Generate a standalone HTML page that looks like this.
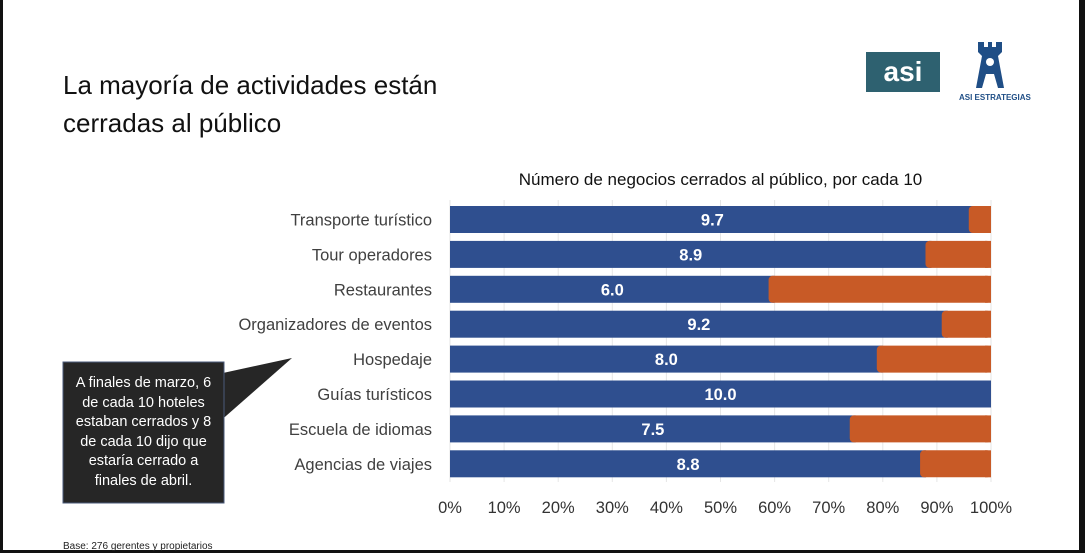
<!DOCTYPE html>
<html><head><meta charset="utf-8"><style>
body{margin:0;width:1085px;height:553px;overflow:hidden;background:#fff;font-family:"Liberation Sans",sans-serif;position:relative}
.t{position:absolute}
</style></head><body>
<div class="t" style="left:0;top:0;width:3px;height:553px;background:#111"></div>
<div class="t" style="left:1079px;top:0;width:6px;height:553px;background:#111"></div>
<div class="t" style="left:0;top:550px;width:1085px;height:3px;background:#111"></div>
<div class="t" style="left:63px;top:66px;font-size:26px;line-height:38px;color:#111">La mayoría de actividades están<br>cerradas al público</div>
<div class="t" style="left:866px;top:52px;width:74px;height:40px;border:2px solid #2e6170;background:#2e6170;color:#fff;font-weight:bold;font-size:28px;line-height:36px;text-align:center;box-sizing:border-box">asi</div>
<div class="t" style="left:965px;top:42px;width:50px;text-align:center">
<svg width="40" height="46" viewBox="0 0 40 46"><path d="M8 0h6v5h4V0h4v5h4V0h6v10l-4 4 6 32H28l-4-14h-8l-4 14H6l6-32-4-4z" fill="#1f4e86"/><circle cx="20" cy="20" r="4" fill="#fff"/></svg>
<div style="font-size:8px;font-weight:bold;color:#1f4e86;white-space:nowrap;margin-left:-6px">ASI ESTRATEGIAS</div></div>
<div class="t" style="left:450px;width:541px;top:170px;text-align:center;font-size:17px;color:#111">Número de negocios cerrados al público, por cada 10</div>
<svg class="t" style="left:0;top:0" width="400" height="553">
<polygon points="200,378 292,358 210,430" fill="#262626"/>
<rect x="63" y="362" width="161" height="141" fill="#262626" stroke="#4a5a7a" stroke-width="1"/>
</svg>
<div class="t" style="left:63px;top:374px;width:161px;text-align:center;color:#fff;font-size:14.5px;line-height:19.5px">A finales de marzo, 6<br>de cada 10 hoteles<br>estaban cerrados y 8<br>de cada 10 dijo que<br>estaría cerrado a<br>finales de abril.</div>
<div class="t" style="left:63px;top:541px;font-size:10px;color:#222">Base: 276 gerentes y propietarios</div>
<svg id="chart" class="t" style="left:0;top:0" width="1085" height="553"></svg>
<script>
const categories=["Transporte turístico","Tour operadores","Restaurantes","Organizadores de eventos","Hospedaje","Guías turísticos","Escuela de idiomas","Agencias de viajes"];
const values=[9.7,8.9,6.0,9.2,8.0,10.0,7.5,8.8];
const ticks=[0,10,20,30,40,50,60,70,80,90,100];
const NS="http://www.w3.org/2000/svg",svg=document.getElementById('chart');
const x0=450,x1=991,yTop=206,pitch=34.9,bh=27;
const xs=v=>x0+(x1-x0)*v/10, xp=p=>x0+(x1-x0)*p/100;
function mk(t,a){const e=document.createElementNS(NS,t);for(const k in a)e.setAttribute(k,a[k]);svg.appendChild(e);return e;}
ticks.forEach(t=>{
 const g=mk('line',{x1:xp(t),x2:xp(t),y1:200,y2:482,stroke:'#e6e6e6'});
 
 
 const l=mk('text',{x:xp(t),y:513,'text-anchor':'middle','font-size':16.5,fill:'#333','font-family':'Liberation Sans'});
 l.textContent=t+'%';
 
 
});
categories.forEach((c,i)=>{
 const y=yTop+i*pitch,v=values[i],xv=xs(v);
 const b=mk('rect',{x:x0,y:y,width:xv-x0,height:bh,fill:'#2f4f8f'});
 
 
 if(v<10){
  const o=mk('rect',{x:xv-6,y:y,width:x1-xv+6,height:bh,rx:4,fill:'#c85a26'});
  
  
  const o2=mk('rect',{x:x1-6,y:y,width:6,height:bh,fill:'#c85a26'});
  
  
 }
 const vl=mk('text',{x:(x0+xv)/2,y:y+bh/2+6,'text-anchor':'middle','font-size':16.5,'font-weight':'bold',fill:'#fff','font-family':'Liberation Sans'});
 vl.textContent=v.toFixed(1);
 
 
 const cl=mk('text',{x:432,y:y+bh/2+6,'text-anchor':'end','font-size':16.5,fill:'#404040','font-family':'Liberation Sans'});
 cl.textContent=c;
 
 
});
</script>
</body></html>
